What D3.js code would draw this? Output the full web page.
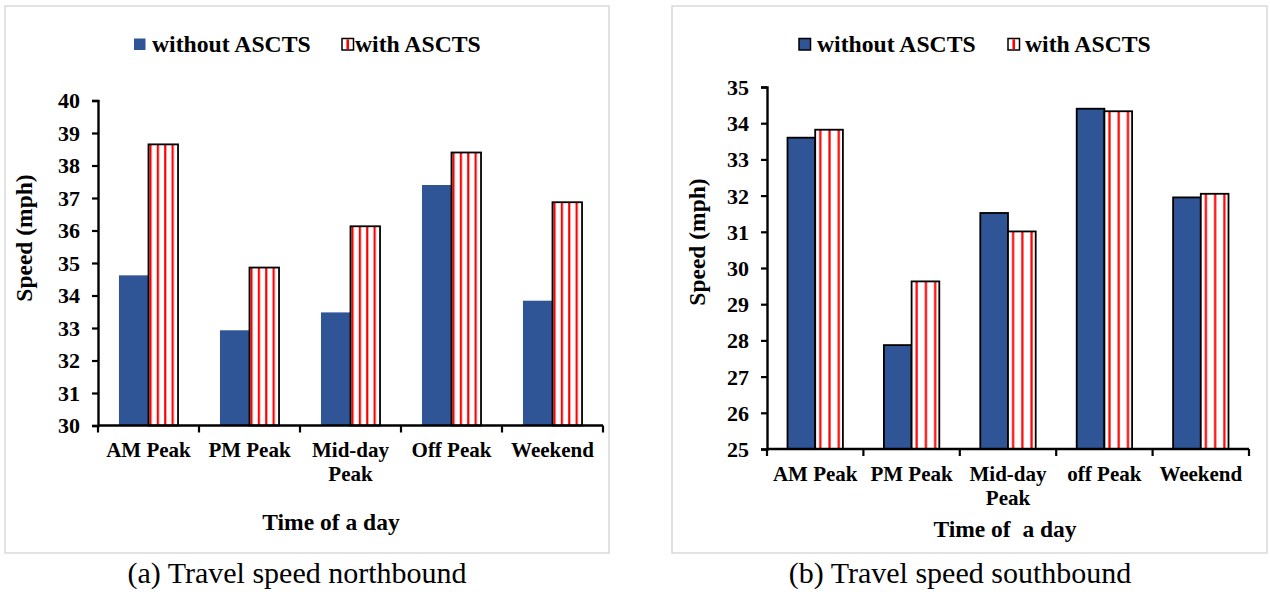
<!DOCTYPE html>
<html><head><meta charset="utf-8">
<script src="https://cdn.jsdelivr.net/npm/d3@7"></script>
<style>body{margin:0;background:#fff}svg{display:block}text{font-family:"Liberation Serif","Times New Roman",serif}</style>
</head><body>
<svg id="c" width="1270" height="592"></svg>
<script>
const seriesNames = ["without ASCTS", "with ASCTS"];
const catsA = ["AM Peak", "PM Peak", "Mid-day Peak", "Off Peak", "Weekend"];
const withoutA = [34.62, 32.93, 33.48, 37.40, 33.84];
const withA = [38.65, 34.86, 36.13, 38.40, 36.87];
const ticksA = [30,31,32,33,34,35,36,37,38,39,40];
const catsB = ["AM Peak", "PM Peak", "Mid-day Peak", "off Peak", "Weekend"];
const withoutB = [33.60, 27.87, 31.52, 34.40, 31.95];
const withB = [33.82, 29.63, 31.01, 34.33, 32.05];
const ticksB = [25,26,27,28,29,30,31,32,33,34,35];

const svg = d3.select("#c");
const BLUE = "#2F5597";
const defs = svg.append("defs");
function makePattern(id, frac, off){
  const p = defs.append("pattern").attr("id",id)
    .attr("patternUnits","objectBoundingBox").attr("width",frac).attr("height",1);
  p.append("rect").attr("x",0).attr("y",0).attr("width",40).attr("height",1000).attr("fill","#fff");
  p.append("rect").attr("x",off).attr("y",0).attr("width",2.2).attr("height",1000).attr("fill","#FF0000");
}
makePattern("stripeA", 0.25, 0.9);
makePattern("stripeB", 1/3, 4.0);

function chart(cfg){
  const g = svg.append("g");
  g.append("rect").attr("x",cfg.frame[0]).attr("y",cfg.frame[1])
    .attr("width",cfg.frame[2]).attr("height",cfg.frame[3])
    .attr("fill","#fff").attr("stroke","#d9d9d9").attr("stroke-width",1.5);
  const x = d3.scaleBand().domain(cfg.cats).range([cfg.x0,cfg.x1]).paddingInner(0).paddingOuter(0);
  const y = d3.scaleLinear().domain([cfg.ticks[0], cfg.ticks[cfg.ticks.length-1]]).range([cfg.yb,cfg.yt]);
  const xs = d3.scaleBand().domain(seriesNames).range([0,x.bandwidth()]).paddingInner(0).paddingOuter(cfg.outer);
  const data = cfg.cats.map((c,i)=>({c, v:[cfg.without[i], cfg.with[i]]}));
  const grp = g.selectAll("g.cat").data(data).join("g").attr("transform",d=>`translate(${x(d.c)},0)`);
  grp.append("rect").attr("x",xs(seriesNames[0])).attr("width",xs.bandwidth())
    .attr("y",d=>y(d.v[0])).attr("height",d=>y(cfg.ticks[0])-y(d.v[0]))
    .attr("fill",BLUE).attr("stroke",cfg.blueStroke?"#000":"none").attr("stroke-width",1.8);
  grp.append("rect").attr("x",xs(seriesNames[1])).attr("width",xs.bandwidth())
    .attr("y",d=>y(d.v[1])).attr("height",d=>y(cfg.ticks[0])-y(d.v[1]))
    .attr("fill",`url(#${cfg.pattern})`).attr("stroke","#000").attr("stroke-width",1.8);
  // y axis
  const ya = g.append("g").attr("transform",`translate(${cfg.x0},0)`)
    .call(d3.axisLeft(y).tickValues(cfg.ticks).tickSize(6).tickPadding(12).tickFormat(d3.format("d")));
  ya.select(".domain").attr("stroke","#000").attr("stroke-width",2.4);
  ya.selectAll(".tick line").attr("stroke-width",2.2);
  ya.selectAll("text").attr("font-size",22).attr("font-weight","bold").attr("fill","#000")
    .attr("font-family","Liberation Serif").attr("dy","0.34em");
  // x axis
  const xa = g.append("g").attr("transform",`translate(0,${cfg.yb})`);
  xa.append("line").attr("x1",cfg.x0).attr("x2",cfg.x1).attr("stroke","#000").attr("stroke-width",2.4);
  const bounds = cfg.cats.map(c=>x(c)).concat([x.range()[1]]);
  xa.selectAll("line.t").data(bounds).join("line").attr("class","t")
    .attr("x1",d=>d).attr("x2",d=>d).attr("y1",0).attr("y2",7).attr("stroke","#000").attr("stroke-width",2.2);
  cfg.cats.forEach(c=>{
    const words = c === "Mid-day Peak" ? ["Mid-day","Peak"] : [c];
    words.forEach((w,j)=>{
      xa.append("text").attr("x",x(c)+x.bandwidth()/2).attr("y",cfg.labelDy + j*cfg.lineH)
        .attr("text-anchor","middle").attr("font-size",21).attr("font-weight","bold").text(w);
    });
  });
  // titles
  g.append("text").attr("transform",`translate(${cfg.yTitle[0]},${cfg.yTitle[1]}) rotate(-90)`)
    .attr("text-anchor","middle").attr("font-size",23.5).attr("font-weight","bold").text("Speed (mph)");
  g.append("text").attr("x",cfg.xTitle[0]).attr("y",cfg.xTitle[1]).attr("text-anchor","middle")
    .attr("font-size",23.5).attr("font-weight","bold").attr("xml:space","preserve").text(cfg.xTitleText);
  // legend
  const L = cfg.legend;
  g.append("rect").attr("x",L[0]).attr("y",38.5).attr("width",L[4]).attr("height",L[4])
    .attr("fill",BLUE).attr("stroke",cfg.blueStroke?"#000":"none").attr("stroke-width",1.5);
  g.append("text").attr("x",L[1]).attr("y",52).attr("font-size",23.7).attr("font-weight","bold").text(seriesNames[0]);
  g.append("rect").attr("x",L[2]).attr("y",38.5).attr("width",L[4]).attr("height",L[4])
    .attr("fill","#fff").attr("stroke","#000").attr("stroke-width",1.5);
  g.append("rect").attr("x",L[2]+L[4]/2-1.3).attr("y",39.3).attr("width",2.6).attr("height",L[4]-1.6).attr("fill","#FF0000");
  g.append("text").attr("x",L[3]).attr("y",52).attr("font-size",23.7).attr("font-weight","bold").text(seriesNames[1]);
  // caption
  g.append("text").attr("x",cfg.caption[0]).attr("y",cfg.caption[1]).attr("text-anchor","middle")
    .attr("font-size",30).text(cfg.captionText);
}

chart({frame:[5,6,604,547], cats:catsA, without:withoutA, with:withA, ticks:ticksA,
  x0:98, x1:603, yb:425.5, yt:100.5, outer:0.71, blueStroke:false, pattern:"stripeA",
  labelDy:31, lineH:24, yTitle:[32,238], xTitle:[331,530], xTitleText:"Time of a day",
  legend:[134,152,342,355,11.5], caption:[297,583], captionText:"(a) Travel speed northbound"});
chart({frame:[672,6,595,547], cats:catsB, without:withoutB, with:withB, ticks:ticksB,
  x0:767, x1:1249, yb:449, yt:87, outer:0.74, blueStroke:true, pattern:"stripeB",
  labelDy:32, lineH:24, yTitle:[705,242], xTitle:[1005,537], xTitleText:"Time of  a day",
  legend:[799,817,1008,1025,11.5], caption:[960,583], captionText:"(b) Travel speed southbound"});
</script>
</body></html>
